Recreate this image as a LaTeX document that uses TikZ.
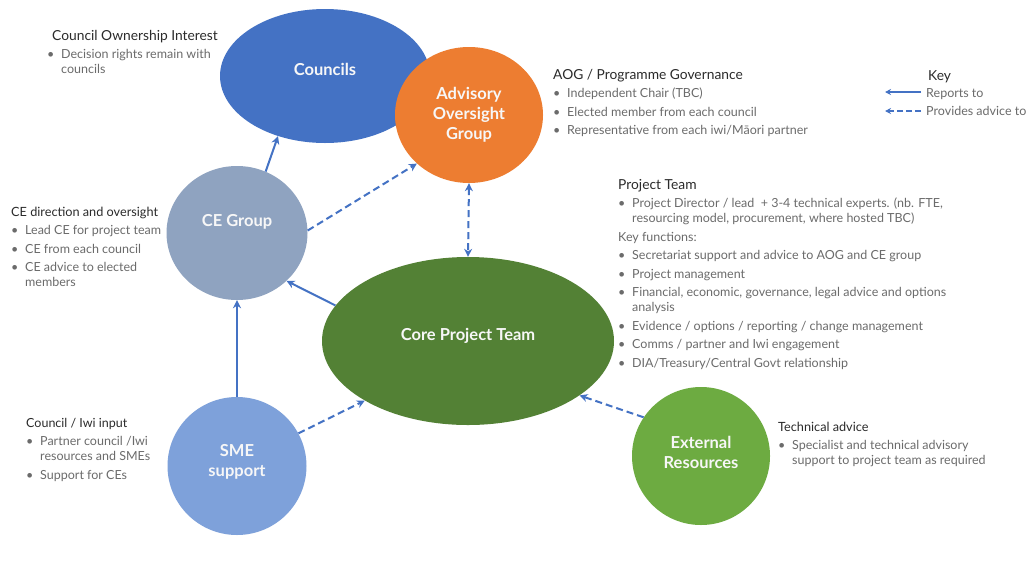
\documentclass[tikz,border=0pt]{standalone}
\usepackage{fontspec}
\setmainfont{Lato}
\usetikzlibrary{shapes.geometric,arrows.meta}

\definecolor{councilblue}{HTML}{4472C4}
\definecolor{aogorange}{HTML}{ED7D31}
\definecolor{cegray}{HTML}{8FA3C0}
\definecolor{coregreen}{HTML}{538135}
\definecolor{smeblue}{HTML}{7EA1DA}
\definecolor{extgreen}{HTML}{6DAB41}
\definecolor{linkblue}{HTML}{4472C4}
\definecolor{headgray}{HTML}{2B2B2B}
\definecolor{bodygray}{HTML}{6B6B6B}

\newcommand{\bu}{\makebox[14pt][l]{\textbullet}}
\newcommand{\hd}[2]{\multicolumn{2}{@{}l@{}}{\color{headgray}\fontsize{#1}{15}\selectfont #2}}

\tikzset{
  blob/.style={ellipse, inner sep=0pt, draw=none},
  blobtext/.style={text=white!94!gray, font=\bfseries\fontsize{16.5}{20}\selectfont, align=center, inner sep=0pt},
  txtblock/.style={anchor=base west, inner sep=0pt, text=bodygray, font=\fontsize{12.5}{15}\selectfont},
  reports/.style={draw=linkblue, line width=2pt, -{Stealth[length=8pt,width=8pt]}},
  advice/.style={reports, dash pattern=on 7pt off 4pt},
}

\begin{document}
\begin{tikzpicture}[x=1pt,y=-1pt]
  \useasboundingbox[fill=white] (0,0) rectangle (1032,571);

  % the bodies
  \node[blob, minimum width=210pt, minimum height=134pt, fill=councilblue,
        label={[blobtext, yshift=7pt]center:Councils}] (councils) at (325,76) {};
  \node[blob, minimum width=148pt, minimum height=136pt, fill=aogorange,
        label={[blobtext]center:Advisory\\Oversight\\Group}] (aog) at (469,115) {};
  \node[blob, minimum width=141pt, minimum height=134pt, fill=cegray,
        label={[blobtext, yshift=11pt]center:CE Group}] (ceg) at (237,233) {};
  \node[blob, minimum width=292pt, minimum height=168pt, fill=coregreen,
        label={[blobtext, yshift=5pt]center:Core Project Team}] (core) at (468,341) {};
  \node[blob, minimum width=139pt, minimum height=138pt, fill=smeblue,
        label={[blobtext, yshift=4pt]center:SME\\support}] (sme) at (237,466) {};
  \node[blob, minimum width=138pt, minimum height=138pt, fill=extgreen,
        label={[blobtext, yshift=4pt]center:External\\Resources}] (ext) at (701,456) {};

  % links
  \draw[reports] (ceg.65) -- (councils.232);
  \draw[advice] (ceg.2) -- (aog.223);
  \draw[advice, {Stealth[length=8pt,width=8pt]}-{Stealth[length=8pt,width=8pt]}] (aog.south) -- (core.north);
  \draw[reports] (core.165) -- (ceg.-44);
  \draw[reports] (sme.north) -- (ceg.south);
  \draw[advice] (sme.28) -- (core.210);
  \draw[advice] (ext.146) -- (core.-26);

  % notes
  \node[txtblock] (owntxt) at (47,40) {\begin{tabular}[t]{@{}l@{}l@{}}
    \hd{13.8}{\hspace{5pt}Council Ownership Interest}\\[3.5pt]
    \bu & Decision rights remain with\\
        & councils
  \end{tabular}};
  \node[txtblock] (aogtxt) at (553,79) {\begin{tabular}[t]{@{}l@{}l@{}}
    \hd{13.8}{AOG / Programme Governance}\\[3.5pt]
    \bu & Independent Chair (TBC)\\[3.5pt]
    \bu & Elected member from each council\\[3.5pt]
    \bu & Representative from each iwi/Māori partner
  \end{tabular}};
  \node[txtblock] (pttxt) at (618,189) {\begin{tabular}[t]{@{}l@{}l@{}}
    \hd{13.8}{Project Team}\\[3.5pt]
    \bu & Project Director / lead \ + 3-4 technical experts. (nb. FTE,\\
        & resourcing model, procurement, where hosted TBC)\\[3.5pt]
    \multicolumn{2}{@{}l@{}}{Key functions:}\\[3.5pt]
    \bu & Secretariat support and advice to AOG and CE group\\[3.5pt]
    \bu & Project management\\[3.5pt]
    \bu & Financial, economic, governance, legal advice and options\\
        & analysis\\[3.5pt]
    \bu & Evidence / options / reporting / change management\\[3.5pt]
    \bu & Comms / partner and Iwi engagement\\[3.5pt]
    \bu & DIA/Treasury/Central Govt relationship
  \end{tabular}};
  \node[txtblock] (cetxt) at (11,216) {\begin{tabular}[t]{@{}l@{}l@{}}
    \hd{12.7}{CE direction and oversight}\\[3.5pt]
    \bu & Lead CE for project team\\[3.5pt]
    \bu & CE from each council\\[3.5pt]
    \bu & CE advice to elected\\
        & members
  \end{tabular}};
  \node[txtblock] (iwitxt) at (26,427) {\begin{tabular}[t]{@{}l@{}l@{}}
    \hd{12.5}{Council / Iwi input}\\[3.5pt]
    \bu & Partner council /Iwi\\
        & resources and SMEs\\[3.5pt]
    \bu & Support for CEs
  \end{tabular}};
  \node[txtblock] (techtxt) at (778,431) {\begin{tabular}[t]{@{}l@{}l@{}}
    \hd{12.7}{Technical advice}\\[3.5pt]
    \bu & Specialist and technical advisory\\
        & support to project team as required
  \end{tabular}};

  % key
  \node[txtblock, text=headgray, font=\fontsize{13.8}{15}\selectfont] (keyhd) at (928,80) {Key};
  \node[txtblock] (keyrep) at (926,97) {Reports to};
  \node[txtblock] (keyadv) at (926,115) {Provides advice to};
  \coordinate (keyrepend) at (885,92);
  \coordinate (keyadvend) at (885,111);
  \draw[reports, -{Stealth[length=6pt,width=6pt]}] ([xshift=-5pt]keyrep.west |- keyrepend) -- (keyrepend);
  \draw[advice, -{Stealth[length=6pt,width=6pt]}, dash pattern=on 6pt off 3pt] ([xshift=-5pt]keyadv.west |- keyadvend) -- (keyadvend);
\end{tikzpicture}
\end{document}
